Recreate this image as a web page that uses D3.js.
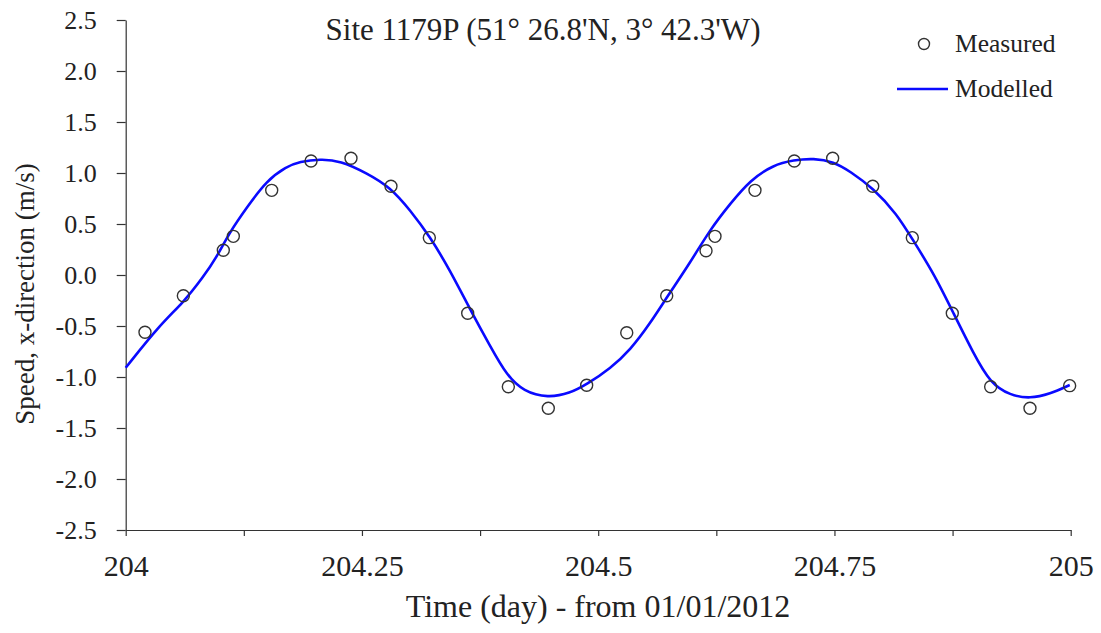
<!DOCTYPE html>
<html>
<head>
<meta charset="utf-8">
<script src="https://cdn.jsdelivr.net/npm/d3@7"></script>
<style>
  body { margin: 0; background: #fff; }
  svg text { font-family: "Liberation Serif", "Times New Roman", serif !important; fill: #222; }
</style>
</head>
<body>
<div id="chart"></div>
<script>
// Measured points (time in days, speed in m/s)
const measuredTime = [204.0204, 204.0610, 204.1033, 204.1139, 204.1545, 204.1961, 204.2384, 204.2807, 204.3213, 204.3619, 204.4049, 204.4472, 204.4878,
    204.5302, 204.5725, 204.6141, 204.6236, 204.6659, 204.7075, 204.7481, 204.7905, 204.8324, 204.8747, 204.9153, 204.9569, 204.9989];
const measuredSpeed = [-0.562, -0.203, 0.242, 0.379, 0.830, 1.118, 1.144, 0.870, 0.366, -0.375, -1.095, -1.307, -1.081,
    -0.566, -0.203, 0.238, 0.379, 0.830, 1.118, 1.144, 0.870, 0.366, -0.375, -1.095, -1.307, -1.085];

// Modelled curve
const modelTime = [204.000, 204.036, 204.061, 204.082, 204.096, 204.110, 204.128, 204.149, 204.170, 204.184, 204.206, 204.227,
    204.255, 204.280, 204.301, 204.322, 204.343, 204.364, 204.386, 204.403, 204.421, 204.447, 204.470, 204.488, 204.513,
    204.534, 204.555, 204.573, 204.597, 204.618, 204.640, 204.661, 204.685, 204.707, 204.728, 204.749, 204.767, 204.791,
    204.816, 204.833, 204.855, 204.876, 204.897, 204.915, 204.936, 204.957, 204.978, 204.999];
const modelSpeed = [-0.909, -0.490, -0.270, -0.020, 0.170, 0.420, 0.660, 0.925, 1.062, 1.111, 1.137, 1.121,
    1.000, 0.860, 0.637, 0.375, 0.049, -0.330, -0.703, -0.980, -1.144, -1.205, -1.160, -1.072, -0.915,
    -0.735, -0.474, -0.213, 0.115, 0.441, 0.703, 0.931, 1.078, 1.127, 1.144, 1.111, 1.013, 0.850,
    0.600, 0.343, 0.017, -0.375, -0.768, -1.062, -1.180, -1.212, -1.167, -1.078];

const yTicks = [-2.5, -2.0, -1.5, -1.0, -0.5, 0.0, 0.5, 1.0, 1.5, 2.0, 2.5];
const xTicks = [204, 204.125, 204.25, 204.375, 204.5, 204.625, 204.75, 204.875, 205];
const xTickLabels = ["204", "", "204.25", "", "204.5", "", "204.75", "", "205"];

const titleText = "Site 1179P (51\u00b0 26.8'N, 3\u00b0 42.3'W)";
const xTitle = "Time (day) - from 01/01/2012";
const yTitle = "Speed, x-direction (m/s)";

const W = 1101, H = 633;
const svg = d3.select("#chart").append("svg")
    .attr("width", W).attr("height", H);

const x = d3.scaleLinear().domain([204, 205]).range([125.7, 1070.7]);
const y = d3.scaleLinear().domain([-2.5, 2.5]).range([530, 20]);

// Axes
const yAxis = d3.axisLeft(y).tickValues(yTicks).tickSize(9).tickSizeOuter(0)
    .tickPadding(20).tickFormat(d => d.toFixed(1));
const xAxis = d3.axisBottom(x).tickValues(xTicks).tickSize(6).tickSizeOuter(0)
    .tickPadding(19).tickFormat((d, i) => xTickLabels[i]);

const gy = svg.append("g").attr("transform", `translate(${x(204)},0)`).call(yAxis);
const gx = svg.append("g").attr("transform", `translate(0,${y(-2.5)})`).call(xAxis);

[gx, gy].forEach(g => {
    g.attr("font-family", null).attr("font-size", null);
    g.select(".domain").attr("stroke", "#333").attr("stroke-width", 1.2);
    g.selectAll(".tick line").attr("stroke", "#333").attr("stroke-width", 1.2);
    g.selectAll(".tick text").attr("fill", "#222")
        .style("font-family", "Liberation Serif", "important");
});
gy.selectAll(".tick text").style("font-size", "26px");
gx.selectAll(".tick text").style("font-size", "30px");

// Modelled line
const line = d3.line()
    .x((d, i) => x(modelTime[i]))
    .y(d => y(d))
    .curve(d3.curveBasis);

svg.append("path")
    .datum(modelSpeed)
    .attr("fill", "none")
    .attr("stroke", "#0a0aff")
    .attr("stroke-width", 2.6)
    .attr("d", line);

// Measured points
svg.selectAll(".point")
    .data(measuredSpeed)
    .enter()
    .append("circle")
    .attr("class", "point")
    .attr("cx", (d, i) => x(measuredTime[i]))
    .attr("cy", d => y(d))
    .attr("r", 6)
    .attr("fill", "none")
    .attr("stroke", "#333")
    .attr("stroke-width", 1.4);

// Titles
svg.append("text")
    .attr("x", 543).attr("y", 40)
    .attr("text-anchor", "middle")
    .style("font-size", "31px")
    .text(titleText);

svg.append("text")
    .attr("x", 598).attr("y", 617)
    .attr("text-anchor", "middle")
    .style("font-size", "32px")
    .text(xTitle);

svg.append("text")
    .attr("transform", "translate(34,294) rotate(-90)")
    .attr("text-anchor", "middle")
    .style("font-size", "27px")
    .text(yTitle);

// Legend
const legend = svg.append("g");
legend.append("circle")
    .attr("cx", 924).attr("cy", 44).attr("r", 5.5)
    .attr("fill", "none").attr("stroke", "#333").attr("stroke-width", 1.4);
legend.append("text")
    .attr("x", 955).attr("y", 52)
    .style("font-size", "25.5px")
    .text("Measured");
legend.append("line")
    .attr("x1", 897).attr("x2", 948)
    .attr("y1", 89).attr("y2", 89)
    .attr("stroke", "#0a0aff").attr("stroke-width", 2.6);
legend.append("text")
    .attr("x", 955).attr("y", 97)
    .style("font-size", "25.5px")
    .text("Modelled");
</script>
</body>
</html>
